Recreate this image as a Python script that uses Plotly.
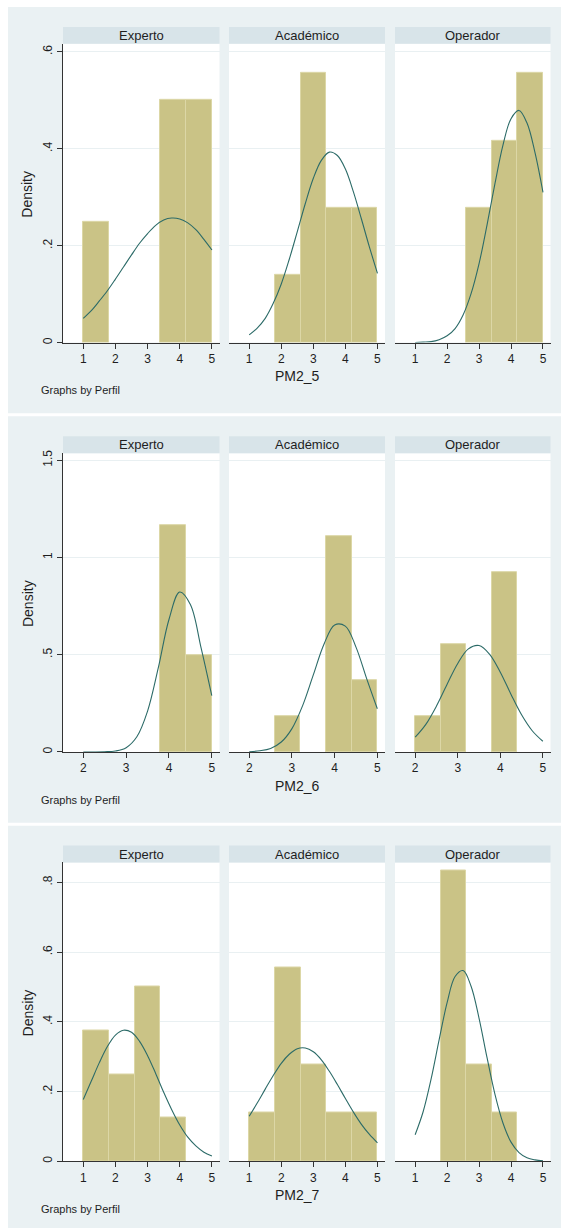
import plotly.graph_objects as go

# ---------------------------------------------------------------- data
GROUPS = ["Experto", "Académico", "Operador"]
VARIABLES = ["PM2_5", "PM2_6", "PM2_7"]

# histogram bins (lower edges) and widths
BIN_EDGES_PM2_5 = [1.0, 1.8, 2.6, 3.4, 4.2]
BIN_EDGES_PM2_6 = [2.0, 2.6, 3.2, 3.8, 4.4]
BIN_EDGES_PM2_7 = [1.0, 1.8, 2.6, 3.4, 4.2]
BIN_WIDTH_PM2_5 = 0.8
BIN_WIDTH_PM2_6 = 0.6
BIN_WIDTH_PM2_7 = 0.8

# bar heights (density) per group
DENSITY_PM2_5_EXPERTO = [0.25, 0.0, 0.0, 0.5, 0.5]
DENSITY_PM2_5_ACADEMICO = [0.0, 0.139, 0.556, 0.278, 0.278]
DENSITY_PM2_5_OPERADOR = [0.0, 0.0, 0.278, 0.417, 0.556]

DENSITY_PM2_6_EXPERTO = [0.0, 0.0, 0.0, 1.167, 0.5]
DENSITY_PM2_6_ACADEMICO = [0.0, 0.185, 0.0, 1.111, 0.370]
DENSITY_PM2_6_OPERADOR = [0.185, 0.556, 0.0, 0.926, 0.0]

DENSITY_PM2_7_EXPERTO = [0.375, 0.25, 0.5, 0.125, 0.0]
DENSITY_PM2_7_ACADEMICO = [0.139, 0.556, 0.278, 0.139, 0.139]
DENSITY_PM2_7_OPERADOR = [0.0, 0.833, 0.278, 0.139, 0.0]

# normal-density overlay, sampled along x
CURVE_X_PM2_5 = [1.0, 1.25, 1.5, 1.75, 2.0, 2.25, 2.5, 2.75, 3.0,
                 3.25, 3.5, 3.75, 4.0, 4.25, 4.5, 4.75, 5.0]
CURVE_X_PM2_6 = [2.0, 2.25, 2.5, 2.75, 3.0, 3.25, 3.5, 3.75, 4.0,
                 4.25, 4.5, 4.75, 5.0]
CURVE_X_PM2_7 = [1.0, 1.25, 1.5, 1.75, 2.0, 2.25, 2.5, 2.75, 3.0,
                 3.25, 3.5, 3.75, 4.0, 4.25, 4.5, 4.75, 5.0]

CURVE_PM2_5_EXPERTO = [0.050, 0.066, 0.086, 0.107, 0.131, 0.156, 0.181, 0.205, 0.225,
                       0.242, 0.253, 0.257, 0.255, 0.247, 0.233, 0.213, 0.191]
CURVE_PM2_5_ACADEMICO = [0.016, 0.030, 0.050, 0.081, 0.121, 0.172, 0.229, 0.287, 0.339,
                         0.376, 0.393, 0.386, 0.358, 0.311, 0.255, 0.197, 0.143]
CURVE_PM2_5_OPERADOR = [0.000, 0.001, 0.002, 0.006, 0.014, 0.029, 0.057, 0.101, 0.163,
                        0.243, 0.329, 0.408, 0.462, 0.479, 0.453, 0.392, 0.310]

CURVE_PM2_6_EXPERTO = [0.000, 0.000, 0.001, 0.005, 0.022, 0.078, 0.210, 0.432, 0.681,
                       0.822, 0.758, 0.535, 0.289]
CURVE_PM2_6_ACADEMICO = [0.001, 0.006, 0.018, 0.051, 0.120, 0.238, 0.396, 0.554, 0.653,
                         0.647, 0.539, 0.377, 0.222]
CURVE_PM2_6_OPERADOR = [0.076, 0.142, 0.236, 0.348, 0.455, 0.530, 0.547, 0.502, 0.410,
                        0.297, 0.191, 0.109, 0.055]

CURVE_PM2_7_EXPERTO = [0.177, 0.230, 0.283, 0.329, 0.362, 0.376, 0.370, 0.344, 0.303,
                       0.252, 0.198, 0.148, 0.104, 0.069, 0.044, 0.026, 0.015]
CURVE_PM2_7_ACADEMICO = [0.129, 0.167, 0.207, 0.246, 0.281, 0.307, 0.323, 0.325, 0.314,
                         0.291, 0.258, 0.220, 0.180, 0.141, 0.106, 0.077, 0.053]
CURVE_PM2_7_OPERADOR = [0.076, 0.142, 0.236, 0.348, 0.455, 0.530, 0.547, 0.502, 0.410,
                        0.297, 0.191, 0.109, 0.055, 0.025, 0.010, 0.004, 0.001]

# axis ticks
X_TICKS_PM2_5 = [1, 2, 3, 4, 5]
X_TICKS_PM2_6 = [2, 3, 4, 5]
X_TICKS_PM2_7 = [1, 2, 3, 4, 5]
Y_TICKS_PM2_5 = [0, 0.2, 0.4, 0.6]
Y_LABELS_PM2_5 = ["0", ".2", ".4", ".6"]
Y_TICKS_PM2_6 = [0, 0.5, 1.0, 1.5]
Y_LABELS_PM2_6 = ["0", ".5", "1", "1.5"]
Y_TICKS_PM2_7 = [0, 0.2, 0.4, 0.6, 0.8]
Y_LABELS_PM2_7 = ["0", ".2", ".4", ".6", ".8"]

PANELS = [
    dict(var="PM2_5", edges=BIN_EDGES_PM2_5, width=BIN_WIDTH_PM2_5,
         bars=[DENSITY_PM2_5_EXPERTO, DENSITY_PM2_5_ACADEMICO, DENSITY_PM2_5_OPERADOR],
         cx=CURVE_X_PM2_5,
         curves=[CURVE_PM2_5_EXPERTO, CURVE_PM2_5_ACADEMICO, CURVE_PM2_5_OPERADOR],
         xticks=X_TICKS_PM2_5, yticks=Y_TICKS_PM2_5, ylabels=Y_LABELS_PM2_5,
         xrange=[0.37, 5.235], yrange=[0, 0.6164]),
    dict(var="PM2_6", edges=BIN_EDGES_PM2_6, width=BIN_WIDTH_PM2_6,
         bars=[DENSITY_PM2_6_EXPERTO, DENSITY_PM2_6_ACADEMICO, DENSITY_PM2_6_OPERADOR],
         cx=CURVE_X_PM2_6,
         curves=[CURVE_PM2_6_EXPERTO, CURVE_PM2_6_ACADEMICO, CURVE_PM2_6_OPERADOR],
         xticks=X_TICKS_PM2_6, yticks=Y_TICKS_PM2_6, ylabels=Y_LABELS_PM2_6,
         xrange=[1.525, 5.18], yrange=[0, 1.536]),
    dict(var="PM2_7", edges=BIN_EDGES_PM2_7, width=BIN_WIDTH_PM2_7,
         bars=[DENSITY_PM2_7_EXPERTO, DENSITY_PM2_7_ACADEMICO, DENSITY_PM2_7_OPERADOR],
         cx=CURVE_X_PM2_7,
         curves=[CURVE_PM2_7_EXPERTO, CURVE_PM2_7_ACADEMICO, CURVE_PM2_7_OPERADOR],
         xticks=X_TICKS_PM2_7, yticks=Y_TICKS_PM2_7, ylabels=Y_LABELS_PM2_7,
         xrange=[0.37, 5.235], yrange=[0, 0.857]),
]

# ---------------------------------------------------------------- style / geometry
W, H = 561, 1230
FONT = "Liberation Sans, Arial, sans-serif"
BG = "#EAF1F3"
STRIP = "#D8E4E9"
GRID = "#E9F0F2"
BAR_FILL = "#CAC386"
BAR_LINE = "#DCD7A6"
CURVE = "#2C6B68"
AXIS = "#333333"
TEXT = "#1E1E1E"

BLOCK_STEP = 411          # vertical distance between stacked graphs (px)
BLOCK_TOP, BLOCK_BOTTOM = 4, 412
STRIP_TOP, PLOT_TOP, PLOT_BOTTOM = 24, 41, 341
COLS = [(63, 219.5), (229, 385), (395, 550.5)]


def fx(px):
    return px / W


def fy(py):
    return 1 - py / H


fig = go.Figure()
shapes = []
annotations = []
layout_axes = {}

for b, panel in enumerate(PANELS):
    off = b * BLOCK_STEP
    # graph region background
    bottom = BLOCK_BOTTOM + off if b < 2 else H
    shapes.append(dict(type="rect", xref="paper", yref="paper", layer="below",
                       x0=fx(8), x1=1, y0=fy(bottom), y1=fy(BLOCK_TOP + off),
                       fillcolor=BG, line=dict(width=0)))
    for c, group in enumerate(GROUPS):
        i = b * 3 + c + 1
        xa = "x" if i == 1 else f"x{i}"
        ya = "y" if i == 1 else f"y{i}"
        x0, x1 = COLS[c]
        # plot region and strip
        shapes.append(dict(type="rect", xref="paper", yref="paper", layer="below",
                           x0=fx(x0), x1=fx(x1), y0=fy(PLOT_BOTTOM + off), y1=fy(PLOT_TOP + off),
                           fillcolor="white", line=dict(width=0)))
        shapes.append(dict(type="rect", xref="paper", yref="paper", layer="below",
                           x0=fx(x0), x1=fx(x1), y0=fy(PLOT_TOP + off), y1=fy(STRIP_TOP + off),
                           fillcolor=STRIP, line=dict(width=0)))
        annotations.append(dict(text=group, xref="paper", yref="paper",
                                x=fx((x0 + x1) / 2), y=fy((STRIP_TOP + PLOT_TOP) / 2 + off),
                                showarrow=False, xanchor="center", yanchor="middle",
                                font=dict(family=FONT, size=13, color=TEXT)))

        # empty bins are left undrawn
        heights = panel["bars"][c]
        bx = [e for e, h in zip(panel["edges"], heights) if h > 0]
        by = [h for h in heights if h > 0]
        fig.add_trace(go.Bar(x=bx, y=by, width=panel["width"],
                             offset=0, xaxis=xa, yaxis=ya, showlegend=False,
                             marker=dict(color=BAR_FILL, line=dict(color=BAR_LINE, width=1))))
        fig.add_trace(go.Scatter(x=panel["cx"], y=panel["curves"][c], mode="lines",
                                 xaxis=xa, yaxis=ya, showlegend=False,
                                 line=dict(color=CURVE, width=1.1, shape="spline")))

        key = "" if i == 1 else str(i)
        layout_axes[f"xaxis{key}"] = dict(
            domain=[fx(x0), fx(x1)], anchor=ya, range=panel["xrange"],
            tickvals=panel["xticks"], ticks="outside", ticklen=5, tickcolor=AXIS,
            showline=True, linecolor=AXIS, linewidth=1, showgrid=False, zeroline=False,
            tickfont=dict(family=FONT, size=12, color=TEXT), fixedrange=True)
        layout_axes[f"yaxis{key}"] = dict(
            domain=[fy(PLOT_BOTTOM + off), fy(PLOT_TOP + off)], anchor=xa,
            range=panel["yrange"], tickvals=panel["yticks"], ticktext=panel["ylabels"],
            showgrid=True, gridcolor=GRID, gridwidth=1, zeroline=False,
            showline=(c == 0), linecolor=AXIS, linewidth=1,
            ticks="outside" if c == 0 else "", ticklen=5, tickcolor=AXIS,
            showticklabels=(c == 0), tickangle=-90,
            tickfont=dict(family=FONT, size=12, color=TEXT), fixedrange=True)

    # axis titles and note
    annotations.append(dict(text="Density", xref="paper", yref="paper",
                            x=fx(27.5), y=fy((PLOT_TOP + PLOT_BOTTOM) / 2 + 1 + off),
                            textangle=-90, showarrow=False, xanchor="center", yanchor="middle",
                            font=dict(family=FONT, size=14, color=TEXT)))
    annotations.append(dict(text=panel["var"], xref="paper", yref="paper",
                            x=fx(297), y=fy(375 + off), showarrow=False,
                            xanchor="center", yanchor="middle",
                            font=dict(family=FONT, size=14, color=TEXT)))
    annotations.append(dict(text="Graphs by Perfil", xref="paper", yref="paper",
                            x=fx(39), y=fy(389 + off), showarrow=False,
                            xanchor="left", yanchor="middle",
                            font=dict(family=FONT, size=11, color=TEXT)))

fig.update_layout(
    width=W, height=H, margin=dict(l=0, r=0, t=0, b=0),
    paper_bgcolor="white", plot_bgcolor="rgba(0,0,0,0)",
    shapes=shapes, annotations=annotations, bargap=0, showlegend=False,
    **layout_axes,
)

fig.write_html("out.html")
